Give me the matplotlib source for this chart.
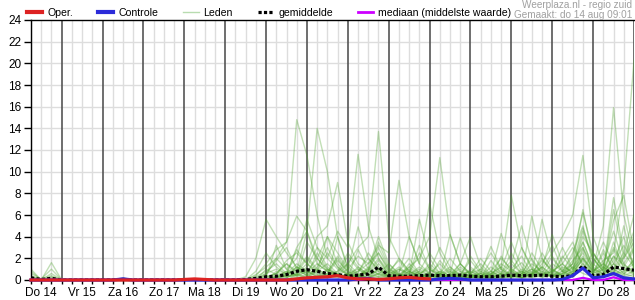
import numpy as np
import matplotlib
matplotlib.use('Agg')
import matplotlib.pyplot as plt
from matplotlib.lines import Line2D

plt.rcParams['font.family'] = ['Liberation Sans', 'DejaVu Sans']

# tijdstappen: uren vanaf do 14 aug 00:00, om de 6 uur (06:00 t/m vr 29 00:00)
uren = np.arange(6, 361, 6)

dagen = ['Do 14', 'Vr 15', 'Za 16', 'Zo 17', 'Ma 18', 'Di 19', 'Wo 20', 'Do 21',
         'Vr 22', 'Za 23', 'Zo 24', 'Ma 25', 'Di 26', 'Wo 27', 'Do 28']

# neerslag in mm
oper = [0, 0, 0, 0, 0, 0, 0, 0, 0, 0,
        0, 0, 0, 0, 0, 0.05, 0.1, 0.05, 0, 0,
        0, 0, 0, 0, 0, 0, 0.1, 0.2, 0.25, 0.3,
        0.4, 0.2, 0.1, 0.1, 0.05, 0.1, 0.2, 0.25, 0.15, 0.1]

controle = [0, 0, 0, 0, 0, 0, 0, 0, 0, 0.1,
            0, 0, 0, 0, 0, 0, 0, 0, 0, 0,
            0, 0, 0, 0, 0, 0, 0, 0, 0, 0,
            0, 0, 0.1, 0.15, 0, 0, 0, 0, 0, 0,
            0.1, 0.15, 0.1, 0, 0, 0, 0, 0, 0, 0,
            0, 0, 0.05, 0.4, 1.1, 0.2, 0.3, 0.6, 0.2, 0.1]

gemiddelde = [0.2, 0.05, 0.15, 0, 0, 0, 0, 0, 0, 0.05,
              0, 0, 0, 0, 0, 0, 0.02, 0, 0, 0,
              0, 0.05, 0.15, 0.3, 0.35, 0.5, 0.8, 0.95, 0.8, 0.6,
              0.5, 0.35, 0.45, 0.55, 1.2, 0.4, 0.35, 0.35, 0.4, 0.45,
              0.4, 0.4, 0.45, 0.35, 0.3, 0.3, 0.35, 0.45, 0.4, 0.4,
              0.45, 0.35, 0.3, 0.4, 1.3, 0.4, 0.5, 1.2, 1.05, 0.9]

mediaan = [0, 0, 0, 0, 0, 0, 0, 0, 0, 0.1,
           0, 0, 0, 0, 0, 0, 0, 0, 0, 0,
           0, 0, 0, 0, 0, 0, 0, 0, 0, 0,
           0, 0, 0, 0.1, 0, 0.05, 0, 0, 0, 0,
           0, 0, 0, 0, 0, 0, 0, 0, 0, 0,
           0, 0, 0, 0, 0.2, 0, 0, 0.25, 0, 0]

leden = [
    [1.0, 0, 1.6, 0, 0, 0, 0, 0, 0, 0, 0, 0, 0, 0, 0, 0, 0, 0, 0, 0,
     0, 0, 0.5, 1.2, 2.0, 3.5, 14.8, 11.5, 6.0, 2.0,
     1.0, 0.5, 0.8, 1.5, 2.5, 0.8, 0.3, 0.5, 1.2, 0.6,
     0.2, 0.4, 1.0, 0.3, 0, 0.5, 1.5, 0.8, 0.2, 0.6,
     1.8, 0.9, 0.4, 1.2, 2.5, 1.0, 0.6, 2.2, 1.4, 0.8],
    [0.6, 0.1, 1.0, 0, 0, 0, 0, 0, 0, 0, 0, 0, 0, 0, 0, 0, 0, 0, 0, 0,
     0, 0, 0.3, 0.8, 1.5, 0.6, 3.0, 4.5, 14.0, 10.0,
     4.0, 1.0, 0.5, 0.2, 1.0, 0.4, 0.2, 0.8, 0.3, 0,
     0.5, 1.2, 0.4, 0.1, 0.8, 0.3, 0, 1.0, 2.2, 0.6,
     0.2, 0.5, 2.0, 3.5, 1.2, 0.4, 1.0, 3.0, 1.5, 0.6],
    [0.3, 0, 0.6, 0, 0, 0, 0, 0, 0, 0, 0, 0, 0, 0, 0, 0, 0, 0, 0, 0,
     0, 0, 0, 0.2, 0.6, 1.5, 0.8, 2.2, 1.0, 0.5,
     0.8, 1.5, 3.0, 4.0, 13.7, 4.0, 2.0, 0.8, 0.4, 1.5,
     0.6, 0.2, 0.5, 1.8, 0.6, 0.2, 0.4, 1.5, 0.6, 2.0,
     0.5, 0.3, 1.2, 0.8, 4.5, 2.0, 0.8, 1.8, 4.0, 1.0],
    [0.4, 0, 0.3, 0, 0, 0, 0, 0, 0, 0, 0, 0, 0, 0, 0, 0, 0, 0, 0, 0,
     0, 0, 0, 0, 0.3, 0.8, 0.4, 1.2, 3.0, 2.0,
     4.5, 3.0, 11.6, 5.0, 2.0, 0.5, 1.0, 0.6, 0.2, 0.8,
     3.0, 1.2, 0.4, 0.2, 1.0, 2.5, 1.0, 0.3, 0.8, 0.4,
     1.5, 3.2, 1.0, 0.5, 2.0, 0.6, 2.8, 1.0, 0.5, 2.0],
    [0.2, 0.1, 0.4, 0, 0, 0, 0, 0, 0, 0, 0, 0, 0, 0, 0, 0, 0, 0, 0, 0,
     0, 0, 0, 0, 0, 0, 0.5, 0.2, 0.8, 1.5,
     0.6, 0.2, 0.5, 1.0, 2.5, 1.0, 0.5, 1.2, 2.0, 4.0,
     11.3, 4.2, 1.5, 0.5, 0.2, 0.8, 2.0, 1.0, 0.4, 1.5,
     0.8, 0.2, 0.6, 1.8, 3.0, 0.8, 0.4, 1.5, 3.2, 1.5],
    [0.8, 0, 0.2, 0, 0, 0, 0, 0, 0, 0, 0, 0, 0, 0, 0, 0, 0, 0, 0, 0,
     0, 0, 0, 1.0, 0.5, 1.8, 2.5, 1.5, 4.0, 5.0,
     9.0, 3.5, 1.5, 0.8, 3.5, 1.2, 0.4, 0.2, 0.6, 1.0,
     0.3, 0, 0.5, 0.8, 0.3, 1.2, 0.5, 0.2, 0.6, 1.0,
     0.4, 1.5, 0.8, 2.2, 6.2, 2.5, 1.2, 0.6, 2.0, 3.5],
    [0, 0, 0, 0, 0, 0, 0, 0, 0, 0.2, 0, 0, 0, 0, 0, 0, 0, 0, 0, 0,
     0, 0, 0.2, 0.6, 1.0, 0.5, 1.2, 0.8, 2.0, 1.0,
     0.4, 1.0, 2.2, 1.5, 3.2, 2.5, 9.2, 4.0, 1.5, 0.6,
     0.2, 0.5, 1.5, 0.6, 0.2, 0.5, 1.2, 7.8, 3.0, 1.0,
     0.5, 0.8, 1.5, 3.0, 1.5, 0.6, 1.0, 7.6, 2.5, 1.2],
    [0, 0, 0, 0, 0, 0, 0, 0, 0, 0.15, 0, 0, 0, 0, 0, 0, 0.1, 0, 0, 0,
     0, 0, 0, 0.4, 0.2, 0.6, 1.5, 0.8, 0.3, 1.0,
     0.5, 0.2, 0.8, 2.0, 1.0, 0.4, 0.2, 1.2, 0.5, 0.2,
     0.8, 0.4, 0.2, 1.0, 0.4, 0.2, 0.6, 1.8, 0.6, 0.3,
     1.2, 0.5, 0.8, 1.5, 3.5, 1.2, 5.0, 15.9, 6.0, 2.0],
    [0, 0, 0, 0, 0, 0, 0, 0, 0, 0, 0, 0, 0, 0, 0, 0, 0, 0, 0, 0,
     0, 0, 0, 0, 0.8, 0.3, 0.6, 1.5, 0.8, 2.5,
     1.2, 0.5, 0.2, 0.6, 1.8, 0.6, 2.0, 0.8, 0.3, 0.6,
     1.5, 0.5, 0.2, 0.6, 1.0, 0.4, 0.2, 0.8, 1.6, 0.5,
     1.0, 2.5, 4.0, 6.0, 11.5, 4.0, 1.5, 0.8, 2.2, 4.5],
    [0, 0, 0, 0, 0, 0, 0, 0, 0, 0, 0, 0, 0, 0, 0, 0, 0, 0, 0, 0,
     0, 0, 0, 0.5, 2.0, 1.0, 0.4, 0.8, 0.3, 0.6,
     1.8, 0.8, 0.4, 0.2, 0.6, 0.3, 1.0, 0.4, 0.2, 0.5,
     0.2, 0.6, 3.9, 1.2, 0.4, 0.8, 0.3, 0.6, 0.2, 0.5,
     1.2, 0.4, 0.6, 1.0, 2.2, 0.8, 1.8, 2.5, 8.5, 20.3],
    [0, 0, 0, 0, 0, 0, 0, 0, 0, 0, 0, 0, 0, 0, 0, 0, 0, 0, 0, 0,
     0, 0.3, 2.0, 5.6, 4.0, 2.5, 1.2, 0.6, 1.5, 0.8,
     0.3, 0.6, 1.0, 0.4, 0.2, 0.5, 1.2, 0.5, 5.6, 2.0,
     0.6, 0.2, 0.4, 0.2, 0.6, 3.1, 1.0, 0.4, 0.2, 5.9,
     2.0, 0.6, 0.3, 0.8, 1.8, 0.6, 1.2, 0.5, 0.8, 1.5],
    [0, 0, 0, 0, 0, 0, 0, 0, 0, 0, 0, 0, 0, 0, 0, 0, 0, 0, 0, 0,
     0, 0, 0.4, 1.5, 2.8, 3.5, 5.9, 4.5, 2.0, 4.0,
     2.5, 1.0, 4.9, 2.0, 0.8, 0.3, 0.6, 4.0, 1.5, 7.1,
     2.5, 0.8, 0.3, 0.6, 1.5, 0.5, 4.3, 1.5, 5.0, 1.8,
     0.6, 0.3, 0.8, 2.5, 5.0, 1.5, 0.6, 3.5, 1.0, 0.5],
    [0, 0, 0, 0, 0, 0, 0, 0, 0, 0, 0, 0, 0, 0, 0, 0, 0, 0, 0, 0,
     0, 0, 0, 0.2, 3.2, 1.0, 2.0, 5.6, 3.0, 1.2,
     0.5, 2.2, 1.0, 0.4, 1.5, 0.6, 0.2, 0.5, 1.0, 0.4,
     0.2, 4.2, 1.5, 4.0, 1.2, 0.4, 0.8, 0.3, 1.0, 0.5,
     5.6, 2.0, 0.8, 0.4, 1.2, 0.6, 2.5, 1.0, 0.4, 0.8],
    [0, 0, 0, 0, 0, 0, 0, 0, 0, 0, 0, 0, 0, 0, 0, 0, 0, 0, 0, 0,
     0, 0, 0, 0, 0.4, 0.2, 0.8, 4.5, 1.5, 0.8,
     2.0, 0.6, 0.3, 0.8, 2.0, 0.8, 0.4, 0.2, 0.6, 1.2,
     0.5, 0.2, 0.8, 0.3, 0.2, 0.6, 1.2, 0.4, 0.2, 0.6,
     1.2, 4.2, 1.5, 0.6, 3.0, 1.2, 0.5, 1.0, 2.5, 6.0],
    [0, 0, 0, 0, 0, 0, 0, 0, 0, 0, 0, 0, 0, 0, 0, 0, 0, 0, 0, 0,
     0, 0, 0, 0, 0, 0.5, 1.0, 0.4, 0.8, 4.0,
     1.5, 0.5, 0.2, 0.4, 1.0, 0.4, 0.8, 2.0, 0.6, 0.3,
     0.6, 0.2, 0.4, 0.8, 0.3, 0.1, 0.3, 0.8, 0.4, 1.0,
     0.3, 0.6, 2.2, 1.0, 4.0, 2.5, 1.0, 5.5, 7.8, 2.5],
    [0, 0, 0, 0, 0, 0, 0, 0, 0, 0, 0, 0, 0, 0, 0, 0, 0, 0, 0, 0,
     0, 0, 0, 0.3, 0.6, 0.3, 0.5, 1.0, 0.5, 0.2,
     4.0, 1.2, 0.5, 0.8, 0.3, 0.2, 0.5, 0.3, 0.8, 0.4,
     0.2, 0.3, 0.6, 0.3, 0.1, 0.2, 0.6, 0.3, 0.8, 0.3,
     0.5, 1.0, 0.4, 1.5, 6.5, 2.0, 0.8, 0.4, 1.2, 2.8],
    [0, 0, 0, 0, 0, 0, 0, 0, 0, 0, 0, 0, 0, 0, 0, 0, 0, 0, 0, 0,
     0, 0, 0, 0.1, 0.3, 0.6, 0.3, 0.8, 0.4, 0.2,
     0.5, 0.3, 1.2, 0.5, 0.8, 0.3, 0.1, 0.4, 0.2, 0.3,
     0.6, 0.2, 0.1, 0.3, 0.6, 0.2, 0.1, 0.4, 0.2, 0.3,
     0.8, 0.3, 0.5, 1.2, 0.6, 0.3, 0.6, 1.5, 0.6, 0.3],
    [0, 0, 0, 0, 0, 0, 0, 0, 0, 0, 0, 0, 0, 0, 0, 0, 0, 0, 0, 0,
     0, 0, 0, 0, 0.2, 0.4, 0.2, 0.5, 1.0, 0.4,
     0.2, 0.5, 0.3, 1.0, 4.0, 1.5, 0.5, 0.2, 0.3, 0.6,
     0.3, 0.1, 0.2, 0.5, 0.3, 0.6, 0.2, 0.3, 0.6, 0.2,
     0.4, 0.8, 0.3, 0.6, 2.0, 0.8, 1.5, 0.6, 5.0, 1.0],
    [0, 0, 0, 0, 0, 0, 0, 0, 0, 0, 0, 0, 0, 0, 0, 0, 0, 0, 0, 0,
     0, 0, 0, 0, 0, 0.2, 0.6, 2.0, 0.8, 0.3,
     0.6, 0.2, 0.5, 0.2, 0.6, 0.2, 0.4, 0.8, 0.3, 0.2,
     0.4, 0.8, 0.3, 0.2, 0.4, 0.2, 0.5, 0.2, 0.4, 0.8,
     0.3, 0.5, 0.2, 0.6, 1.5, 0.5, 0.3, 0.8, 0.3, 0.5],
    [0, 0, 0, 0, 0, 0, 0, 0, 0, 0, 0, 0, 0, 0, 0, 0, 0, 0, 0, 0,
     0, 0, 0.8, 2.5, 1.2, 0.5, 2.8, 1.5, 0.6, 0.3,
     0.8, 2.5, 1.2, 0.5, 0.3, 0.8, 1.8, 0.6, 2.5, 1.0,
     0.4, 1.0, 0.3, 2.2, 0.8, 0.3, 0.6, 2.5, 0.8, 0.3,
     2.5, 1.0, 0.4, 0.8, 3.5, 1.2, 3.5, 1.5, 0.6, 1.2],
    [0, 0, 0, 0, 0, 0, 0, 0, 0, 0, 0, 0, 0, 0, 0, 0, 0, 0, 0, 0,
     0, 0, 0, 0.6, 1.8, 3.0, 1.0, 0.4, 2.5, 1.0,
     0.5, 0.2, 2.8, 1.0, 0.5, 1.5, 0.6, 0.3, 0.8, 2.5,
     1.0, 0.3, 1.5, 0.5, 0.2, 1.8, 0.6, 0.3, 3.0, 1.2,
     0.4, 0.8, 3.0, 1.0, 2.0, 0.8, 1.5, 4.5, 1.5, 3.0],
    [0, 0, 0, 0, 0, 0, 0, 0, 0, 0, 0, 0, 0, 0, 0, 0, 0, 0, 0, 0,
     0, 0, 0, 0, 0.2, 0.8, 0.4, 3.5, 2.0, 0.8,
     0.4, 1.5, 0.6, 2.5, 1.2, 0.4, 0.2, 1.5, 0.6, 0.2,
     1.8, 0.6, 0.2, 0.5, 2.0, 0.8, 0.3, 1.0, 0.4, 2.5,
     1.0, 0.3, 0.6, 1.5, 4.8, 2.0, 0.8, 2.8, 1.2, 0.6],
    [0, 0, 0, 0, 0, 0, 0, 0, 0, 0, 0, 0, 0, 0, 0, 0, 0, 0, 0, 0,
     0, 0, 0, 0, 0.6, 1.5, 0.6, 0.2, 1.2, 3.0,
     1.2, 0.4, 0.2, 0.8, 3.0, 1.0, 0.4, 0.6, 3.2, 1.0,
     0.5, 2.0, 0.8, 0.3, 0.6, 0.2, 2.2, 0.8, 0.3, 0.6,
     2.0, 0.8, 1.5, 0.5, 1.0, 2.5, 1.0, 6.5, 2.0, 4.0],
    [0, 0, 0, 0, 0, 0, 0, 0, 0, 0, 0, 0, 0, 0, 0, 0, 0, 0, 0, 0,
     0, 0, 0, 0, 0.1, 0.4, 1.2, 0.5, 0.2, 0.6,
     2.2, 0.8, 0.3, 1.2, 0.5, 0.2, 0.5, 1.0, 0.4, 0.2,
     0.8, 0.3, 1.2, 0.5, 0.2, 0.4, 1.0, 3.5, 1.2, 0.4,
     0.6, 2.2, 0.8, 0.3, 2.8, 1.0, 0.5, 2.2, 0.8, 1.8],
]

ROOD = '#dd2222'
BLAUW = '#2b2bd9'
GROEN = '#4fa32e'
PAARS = '#cc00ff'

fig = plt.figure(figsize=(6.35, 3.0), dpi=100)
ax = fig.add_axes([31 / 635, 20 / 300, 603 / 635, 260 / 300])
ax.set_xlim(6, 360)
ax.set_ylim(0, 24)

# rasterlijnen: lichtgrijs om de 6 uur en om de 2 mm, donker om middernacht
for h in range(6, 361, 6):
    if h % 24 == 0:
        ax.axvline(h, color='#555555', lw=1.2, zorder=1)
    else:
        ax.axvline(h, color='#dddddd', lw=1, zorder=0)
for y in range(2, 24, 2):
    ax.axhline(y, color='#dddddd', lw=1, zorder=0)

for lid in leden:
    ax.plot(uren, lid, color=GROEN, lw=1, alpha=0.35, zorder=2)

# volgorde: mediaan onder, dan gemiddelde, controle en oper bovenop
ax.plot(uren, mediaan, color=PAARS, lw=1.6, zorder=3, clip_on=False)
ax.plot(uren, gemiddelde, color='black', lw=2.3, linestyle=(0, (1, 0.7)),
        dash_capstyle='butt', zorder=4)
ax.plot(uren, controle, color=BLAUW, lw=2.3, zorder=5, clip_on=False)
ax.plot(uren[:len(oper)], oper, color=ROOD, lw=2.3, zorder=6, clip_on=False)

ax.set_yticks(range(0, 25, 2))
ax.set_xticks(range(12, 360, 24))
ax.set_xticklabels(dagen)
ax.set_xticks(range(6, 361, 6), minor=True)
ax.tick_params(axis='y', length=5, width=1, labelsize=8.5, pad=2)
ax.tick_params(axis='x', which='both', length=3, width=1, labelsize=8.5, pad=2)

for s in ['left', 'top', 'bottom']:
    ax.spines[s].set_color('black')
    ax.spines[s].set_linewidth(1)
ax.spines['right'].set_visible(False)

# legenda boven de grafiek
handles = [Line2D([], [], color=ROOD, lw=3),
           Line2D([], [], color=BLAUW, lw=3),
           Line2D([], [], color='#b8dcb0', lw=1),
           Line2D([], [], color='black', lw=2.3, linestyle=(0, (1, 0.7)), dash_capstyle='butt'),
           Line2D([], [], color=PAARS, lw=2)]
labels = ['Oper.', 'Controle', 'Leden', 'gemiddelde', 'mediaan (middelste waarde)']
fig.legend(handles, labels, loc='center left', bbox_to_anchor=(27 / 635, 1 - 13 / 300),
           ncol=5, frameon=False, fontsize=7.6, handlelength=1.45, handletextpad=0.45,
           columnspacing=2.4, borderpad=0, borderaxespad=0)

fig.text(632 / 635, 1 - 5 / 300, 'Weerplaza.nl - regio zuid', ha='right', va='center',
         color='#a0a0a0', fontsize=7.2)
fig.text(632 / 635, 1 - 14.5 / 300, 'Gemaakt: do 14 aug 09:01', ha='right', va='center',
         color='#a0a0a0', fontsize=7.2)

fig.savefig('out.png', dpi=100)
